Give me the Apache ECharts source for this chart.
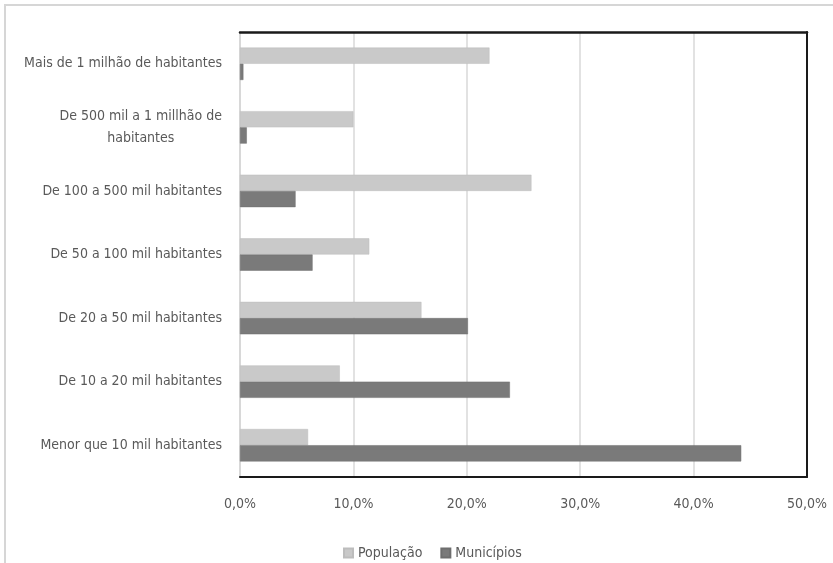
<!DOCTYPE html>
<html>
<head>
<meta charset="utf-8">
<script src="https://cdn.jsdelivr.net/npm/echarts@6/dist/echarts.min.js"></script>
<style>
  html, body { margin: 0; padding: 0; background: #ffffff; }
  #chart { width: 833px; height: 563px; }
</style>
</head>
<body>
<div id="chart"></div>
<script>
// Faixas de tamanho dos municípios (de cima para baixo)
const categories = [
  'Mais de 1 milhão de habitantes',
  'De 500 mil a 1 millhão de habitantes',
  'De 100 a 500 mil habitantes',
  'De 50 a 100 mil habitantes',
  'De 20 a 50 mil habitantes',
  'De 10 a 20 mil habitantes',
  'Menor que 10 mil habitantes'
];
// Participação percentual em cada faixa
const populacao = [22.0, 10.0, 25.7, 11.4, 16.0, 8.8, 6.0];
const municipios = [0.3, 0.6, 4.9, 6.4, 20.1, 23.8, 44.2];
const xTicks = [0, 10, 20, 30, 40, 50];

const FONT = "'DejaVu Sans Condensed', 'Liberation Sans Narrow', 'Liberation Sans', sans-serif";
const TEXT = '#595959';

const chart = echarts.init(document.getElementById('chart'));

function catLabel(v) {
  if (v === 'De 500 mil a 1 millhão de habitantes') {
    return '{c|De 500 mil a 1 millhão de}\n{c|habitantes}';
  }
  return '{r|' + v + '}';
}

chart.setOption({
  backgroundColor: '#ffffff',
  animation: false,
  graphic: [{
    type: 'rect',
    shape: { x: 5, y: 5, width: 840, height: 570 },
    style: { fill: 'none', stroke: '#d6d6d6', lineWidth: 2 },
    z: -1
  }],
  grid: { left: 240, right: 26, top: 32, bottom: 86, containLabel: false },
  legend: {
    top: 541,
    left: 338,
    itemWidth: 9,
    itemHeight: 9,
    itemGap: 18,
    icon: 'rect',
    textStyle: { color: TEXT, fontSize: 14, fontFamily: FONT },
    data: ['População', 'Municípios']
  },
  xAxis: [{
    type: 'value',
    position: 'bottom',
    min: xTicks[0],
    max: xTicks[xTicks.length - 1],
    interval: 10,
    axisLine: { show: true, onZero: false, lineStyle: { color: '#1a1a1a', width: 2 } },
    axisTick: { show: false },
    splitLine: { show: true, lineStyle: { color: '#d9d9d9', width: 1.5 } },
    axisLabel: {
      margin: 20,
      color: TEXT,
      fontSize: 14,
      fontFamily: FONT,
      formatter: v => v.toFixed(1).replace('.', ',') + '%'
    }
  }, {
    type: 'value',
    position: 'top',
    min: xTicks[0],
    max: xTicks[xTicks.length - 1],
    interval: 10,
    axisLine: { show: true, onZero: false, lineStyle: { color: '#1a1a1a', width: 2.5 } },
    axisTick: { show: false },
    axisLabel: { show: false },
    splitLine: { show: false }
  }],
  yAxis: [{
    type: 'category',
    inverse: true,
    data: categories,
    axisLine: { show: true, onZero: false, lineStyle: { color: '#d4d4d4', width: 1.5 } },
    axisTick: { show: false },
    axisLabel: {
      margin: 18,
      color: TEXT,
      fontSize: 14,
      fontFamily: FONT,
      lineHeight: 22,
      formatter: catLabel,
      rich: {
        r: { color: TEXT, fontSize: 14, fontFamily: FONT },
        c: { color: TEXT, fontSize: 14, fontFamily: FONT, align: 'center', lineHeight: 22 }
      }
    }
  }, {
    type: 'category',
    inverse: true,
    position: 'right',
    data: categories,
    axisLine: { show: true, onZero: false, lineStyle: { color: '#1a1a1a', width: 2 } },
    axisTick: { show: false },
    axisLabel: { show: false }
  }],
  series: [{
    name: 'População',
    type: 'bar',
    data: populacao,
    barGap: '0%',
    barCategoryGap: '49%',
    itemStyle: { color: '#c9c9c9', borderColor: '#bdbdbd', borderWidth: 0.5 }
  }, {
    name: 'Municípios',
    type: 'bar',
    data: municipios,
    itemStyle: { color: '#7a7a7a', borderColor: '#6e6e6e', borderWidth: 0.5 }
  }]
});
</script>
</body>
</html>
